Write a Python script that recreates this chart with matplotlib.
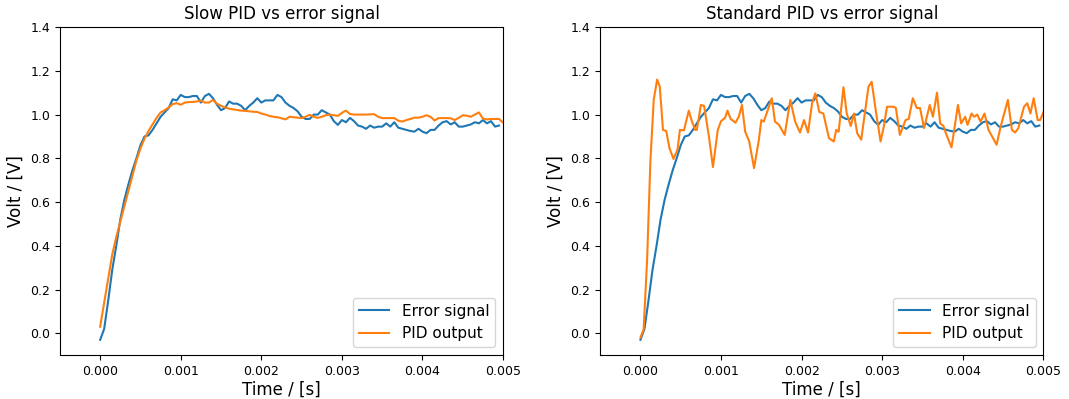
#!/usr/bin/env python3
"""Slow vs standard PID response against the error signal."""
import numpy as np
import matplotlib
matplotlib.use('Agg')
import matplotlib.pyplot as plt
from matplotlib.ticker import FormatStrFormatter

# error signal, sampled every 50 us from t=0
dt = 0.00005
error_sig = [-0.03, 0.02, 0.15, 0.29, 0.40, 0.52, 0.61, 0.68, 0.745, 0.80,
             0.86, 0.90, 0.905, 0.93, 0.96, 0.99, 1.01, 1.03, 1.07, 1.065,
             1.09, 1.08, 1.08, 1.085, 1.085, 1.055, 1.085, 1.095, 1.075, 1.045,
             1.02, 1.03, 1.06, 1.05, 1.05, 1.04, 1.02, 1.04, 1.055, 1.075,
             1.055, 1.065, 1.065, 1.065, 1.09, 1.08, 1.055, 1.04, 1.03, 1.015,
             0.99, 0.98, 0.98, 1.0, 1.0, 1.02, 1.01, 1.0, 0.97, 0.953,
             0.975, 0.965, 0.985, 0.97, 0.95, 0.945, 0.935, 0.95, 0.94, 0.945,
             0.945, 0.96, 0.945, 0.965, 0.94, 0.935, 0.93, 0.925, 0.922, 0.935,
             0.922, 0.915, 0.93, 0.93, 0.95, 0.965, 0.97, 0.955, 0.965, 0.945,
             0.945, 0.95, 0.955, 0.965, 0.96, 0.975, 0.96, 0.97, 0.945, 0.95]

# slow PID output, same sampling, runs to t=0.005
pid_slow = [0.03, 0.14, 0.25, 0.36, 0.44, 0.51, 0.58, 0.65, 0.72, 0.79,
            0.845, 0.89, 0.925, 0.955, 0.985, 1.01, 1.02, 1.033, 1.048, 1.052,
            1.045, 1.055, 1.057, 1.058, 1.06, 1.064, 1.055, 1.055, 1.067, 1.05,
            1.04, 1.033, 1.027, 1.024, 1.021, 1.018, 1.017, 1.015, 1.013, 1.012,
            1.005, 1.0, 0.994, 0.99, 0.988, 0.983, 0.978, 0.99, 0.988, 0.986,
            0.984, 0.99, 0.999, 0.99, 0.985, 0.99, 0.997, 1.0, 0.997, 0.994,
            1.008, 1.018, 1.003, 1.0, 1.0, 1.0, 1.0, 1.001, 1.002, 0.99,
            0.984, 0.984, 0.984, 0.984, 0.972, 0.968, 0.975, 0.98, 0.986, 0.986,
            0.99, 0.997, 0.99, 0.973, 0.984, 0.984, 0.984, 0.983, 0.975, 0.985,
            0.997, 0.995, 0.99, 1.0, 1.01, 0.982, 0.978, 0.98, 0.98, 0.98,
            0.963]

# standard PID output, read at its turning points (time in ms)
pid_std_ms = [0, 0.04, 0.083, 0.124, 0.165, 0.207, 0.24, 0.28, 0.32, 0.36,
              0.41, 0.46, 0.49, 0.54, 0.60, 0.64, 0.68, 0.70, 0.75, 0.79,
              0.85, 0.90, 0.96, 1.00, 1.05, 1.08, 1.12, 1.18, 1.22, 1.26,
              1.30, 1.35, 1.41, 1.47, 1.50, 1.53, 1.58, 1.63, 1.67, 1.72,
              1.79, 1.82, 1.86, 1.92, 1.98, 2.03, 2.08, 2.13, 2.17, 2.22,
              2.27, 2.34, 2.40, 2.43, 2.46, 2.52, 2.56, 2.61, 2.65, 2.69,
              2.74, 2.79, 2.83, 2.87, 2.92, 2.98, 3.02, 3.06, 3.14, 3.17,
              3.22, 3.29, 3.33, 3.38, 3.43, 3.47, 3.52, 3.59, 3.63, 3.68,
              3.72, 3.76, 3.79, 3.86, 3.90, 3.94, 3.98, 4.03, 4.06, 4.11,
              4.14, 4.18, 4.22, 4.27, 4.32, 4.42, 4.47, 4.56, 4.61, 4.65,
              4.69, 4.76, 4.80, 4.84, 4.88, 4.93, 4.96, 5.00]
pid_std = [-0.02, 0.018, 0.337, 0.79, 1.067, 1.16, 1.128, 0.93, 0.925, 0.847,
           0.797, 0.84, 0.93, 0.928, 1.018, 0.968, 0.93, 0.93, 1.044, 1.04,
           0.90, 0.76, 0.93, 0.97, 0.985, 1.018, 0.98, 0.963, 0.99, 1.044,
           0.922, 0.877, 0.755, 0.885, 0.975, 0.968, 1.02, 1.075, 0.968, 0.953,
           0.907, 0.975, 1.067, 0.968, 0.918, 0.975, 0.918, 1.052, 1.097, 1.012,
           1.005, 0.892, 0.877, 0.93, 0.922, 1.125, 1.005, 0.948, 1.005, 0.915,
           0.885, 1.02, 1.128, 1.15, 1.02, 0.877, 0.945, 1.036, 1.036, 1.03,
           0.907, 0.975, 0.98, 1.075, 1.03, 1.03, 0.938, 1.044, 0.99, 1.10,
           0.96, 0.948, 0.915, 0.85, 0.945, 1.044, 0.96, 0.99, 0.953, 1.005,
           0.99, 1.0, 0.968, 1.005, 0.93, 0.862, 0.945, 1.067, 0.93, 0.918,
           0.938, 1.036, 1.052, 1.005, 1.075, 0.975, 0.975, 1.01]

t_err = np.arange(len(error_sig)) * dt
t_slow = np.arange(len(pid_slow)) * dt
t_std = np.array(pid_std_ms) * 1e-3

fig, axes = plt.subplots(1, 2, figsize=(10.69, 3.99), dpi=100)
plt.subplots_adjust(left=0.056, right=0.976, bottom=0.11, top=0.932, wspace=0.219)

panels = [("Slow PID vs error signal", t_slow, pid_slow),
          ("Standard PID vs error signal", t_std, pid_std)]
for ax, (title, tp, vp) in zip(axes, panels):
    ax.plot(t_err, error_sig, color='#1f77b4', lw=1.5, label='Error signal')
    ax.plot(tp, vp, color='#ff7f0e', lw=1.5, label='PID output')
    ax.set_xlim(-0.0005, 0.005)
    ax.set_ylim(-0.1, 1.4)
    ax.set_xticks(np.arange(0, 0.0051, 0.001))
    ax.set_yticks(np.arange(0, 1.41, 0.2))
    ax.xaxis.set_major_formatter(FormatStrFormatter('%.3f'))
    ax.yaxis.set_major_formatter(FormatStrFormatter('%.1f'))
    ax.tick_params(labelsize=9)
    ax.set_title(title, fontsize=12)
    ax.set_xlabel('Time / [s]', fontsize=12, labelpad=2)
    ax.set_ylabel('Volt / [V]', fontsize=12, labelpad=4)
    ax.legend(loc='lower right', fontsize=11)

plt.savefig('out.png', dpi=100)
plt.close()
